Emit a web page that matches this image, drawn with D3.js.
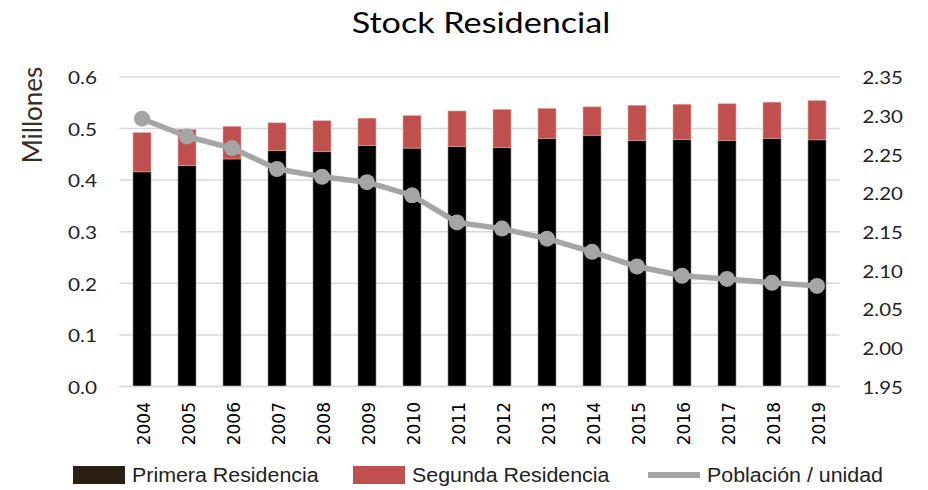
<!DOCTYPE html>
<html>
<head>
<meta charset="utf-8">
<script src="https://cdn.jsdelivr.net/npm/d3@7"></script>
<style>
  body { margin: 0; background: #fff; }
  svg { display: block; }
</style>
</head>
<body>
<svg id="chart" width="928" height="490"></svg>
<script>
// Housing stock (millions) and population per dwelling, 2004–2019
const years = ["2004","2005","2006","2007","2008","2009","2010","2011","2012","2013","2014","2015","2016","2017","2018","2019"];
const primera = [0.416,0.428,0.441,0.457,0.455,0.467,0.462,0.465,0.463,0.481,0.487,0.477,0.479,0.477,0.481,0.478];
const total   = [0.492,0.498,0.504,0.511,0.515,0.520,0.525,0.534,0.537,0.539,0.542,0.545,0.547,0.548,0.551,0.554];
const segunda = total.map((t, i) => +(t - primera[i]).toFixed(3));
const poblacion = [2.296,2.273,2.258,2.231,2.221,2.214,2.197,2.162,2.154,2.141,2.124,2.105,2.093,2.089,2.084,2.080];
const leftTicks = [0, 0.1, 0.2, 0.3, 0.4, 0.5, 0.6];
const rightTicks = [1.95, 2.00, 2.05, 2.10, 2.15, 2.20, 2.25, 2.30, 2.35];

const svg = d3.select("#chart");
const plot = { left: 119.5, right: 839.5, top: 76.9, bottom: 386.5 };
const humanist = "Lato, 'Open Sans', sans-serif";

// Widen text horizontally around its anchor point
function widen(sel, k) {
  sel.each(function () {
    const t = d3.select(this);
    const x0 = +t.attr("x") || 0;
    const y0 = +t.attr("y") || 0;
    t.attr("x", 0).attr("y", 0)
     .attr("transform", `translate(${x0},${y0}) scale(${k},1)`);
  });
}

const x = d3.scaleBand().domain(years).range([plot.left, plot.right]).paddingInner(0.6).paddingOuter(0.3);
const yL = d3.scaleLinear().domain([0, 0.6]).range([plot.bottom, plot.top]);
const yR = d3.scaleLinear().domain([1.95, 2.35]).range([plot.bottom, plot.top]);

// Title
svg.append("text")
  .attr("x", 481).attr("y", 33)
  .attr("text-anchor", "middle")
  .style("font-family", humanist).style("font-size", "28px").style("fill", "#000")
  .text("Stock Residencial")
  .call(widen, 1.22);

// Gridlines
svg.append("g").selectAll("line").data(leftTicks).join("line")
  .attr("x1", plot.left).attr("x2", plot.right)
  .attr("y1", d => yL(d)).attr("y2", d => yL(d))
  .attr("stroke", "#d9d9d9").attr("stroke-width", 1.5);

// Left axis
const axL = svg.append("g").attr("transform", `translate(${plot.left},0)`)
  .call(d3.axisLeft(yL).tickValues(leftTicks).tickFormat(d3.format(".1f")).tickSize(0).tickPadding(22.5));
axL.select(".domain").remove();
axL.selectAll("text").attr("dy", null).attr("dominant-baseline", "central")
  .style("font-family", humanist).style("font-size", "17px").style("fill", "#222")
  .call(widen, 1.22);

// Right axis
const axR = svg.append("g").attr("transform", `translate(${plot.right},0)`)
  .call(d3.axisRight(yR).tickValues(rightTicks).tickFormat(d3.format(".2f")).tickSize(0).tickPadding(23));
axR.select(".domain").remove();
axR.selectAll("text").attr("dy", null).attr("dominant-baseline", "central")
  .style("font-family", humanist).style("font-size", "17px").style("fill", "#222")
  .call(widen, 1.2);

// Left axis title
svg.append("text")
  .attr("transform", `translate(42,115) rotate(-90)`)
  .attr("text-anchor", "middle")
  .style("font-family", humanist).style("font-size", "26px").style("fill", "#3b2c20")
  .text("Millones");

// Stacked bars
const bars = svg.append("g");
bars.selectAll("rect.primera").data(years).join("rect")
  .attr("class", "primera")
  .attr("x", d => x(d)).attr("width", x.bandwidth())
  .attr("y", (d, i) => yL(primera[i]))
  .attr("height", (d, i) => yL(0) - yL(primera[i]))
  .attr("fill", "#000").attr("stroke", "#8a8a8a").attr("stroke-width", 0.6);
bars.selectAll("rect.segunda").data(years).join("rect")
  .attr("class", "segunda")
  .attr("x", d => x(d)).attr("width", x.bandwidth())
  .attr("y", (d, i) => yL(primera[i] + segunda[i]))
  .attr("height", (d, i) => yL(primera[i]) - yL(primera[i] + segunda[i]))
  .attr("fill", "#c0504d").attr("stroke", "#e8a6a4").attr("stroke-width", 0.6);

// Bottom axis
svg.append("line")
  .attr("x1", plot.left).attr("x2", plot.right)
  .attr("y1", plot.bottom).attr("y2", plot.bottom)
  .attr("stroke", "#d9d9d9").attr("stroke-width", 1.5);
svg.append("g").selectAll("text").data(years).join("text")
  .attr("transform", d => `translate(${x(d) + x.bandwidth() / 2 + 8},402) rotate(-90)`)
  .attr("text-anchor", "end")
  .style("font-family", "'DejaVu Sans', sans-serif").style("font-size", "17px").style("fill", "#000")
  .text(d => d);

// Population per dwelling line
const cx = d => x(d) + x.bandwidth() / 2;
const line = d3.line().x((d, i) => cx(years[i])).y(d => yR(d));
svg.append("path").datum(poblacion)
  .attr("d", line).attr("fill", "none")
  .attr("stroke", "#a5a5a5").attr("stroke-width", 5.5).attr("stroke-linejoin", "round");
svg.append("g").selectAll("circle").data(poblacion).join("circle")
  .attr("cx", (d, i) => cx(years[i])).attr("cy", d => yR(d))
  .attr("r", 8).attr("fill", "#a5a5a5");

// Legend
const legendFont = "'Liberation Sans', Arial, sans-serif";
const legend = [
  { label: "Primera Residencia", type: "rect", color: "#2b1f14", x: 73 },
  { label: "Segunda Residencia", type: "rect", color: "#c0504d", x: 353 },
  { label: "Población / unidad", type: "line", color: "#a5a5a5", x: 648 }
];
const lg = svg.append("g").selectAll("g").data(legend).join("g")
  .attr("transform", d => `translate(${d.x},475)`);
lg.filter(d => d.type === "rect").append("rect")
  .attr("x", 0).attr("y", -9).attr("width", 52).attr("height", 18).attr("fill", d => d.color);
lg.filter(d => d.type === "line").append("rect")
  .attr("x", 0).attr("y", -3).attr("width", 52).attr("height", 6).attr("fill", d => d.color);
lg.append("text")
  .attr("x", 59).attr("y", 0).attr("dominant-baseline", "central")
  .style("font-family", legendFont)
  .style("font-size", "20px").style("fill", "#222")
  .text(d => d.label)
  .call(widen, 1.07);
</script>
</body>
</html>
